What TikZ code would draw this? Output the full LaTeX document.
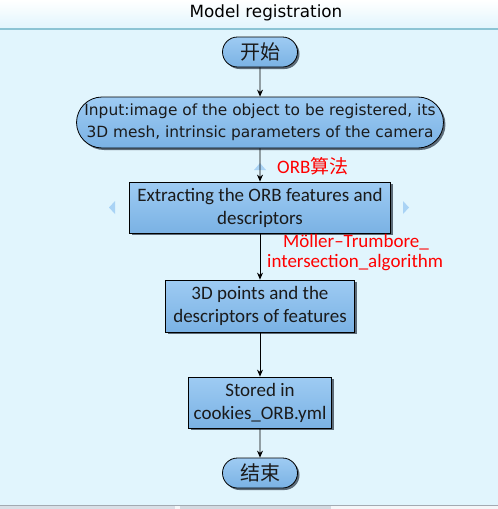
\documentclass[tikz,border=0pt]{standalone}
\usepackage{fontspec}
\setmainfont{DejaVu Sans}
\newfontfamily\calfont{Carlito}
\newfontfamily\cjk{Noto Sans CJK SC}
\usetikzlibrary{shapes.misc,arrows.meta,shadows}
\definecolor{bgblue}{HTML}{E1F5FD}
\definecolor{lineblue}{HTML}{8CC4D4}
\definecolor{boxtop}{HTML}{9ECBF3}
\definecolor{boxbot}{HTML}{7AB2E4}
\definecolor{shadowc}{HTML}{5C6B78}
\definecolor{handle}{HTML}{A9D3F5}
\definecolor{txt}{HTML}{1A1A1A}
\definecolor{stripa}{HTML}{D9DFE6}
\definecolor{stripb}{HTML}{F5F7F9}
\definecolor{stripc}{HTML}{D3D9E0}
\definecolor{stripd}{HTML}{F4F6F8}
\definecolor{stripline}{HTML}{A3AAB2}
\begin{document}
\begin{tikzpicture}[x=1pt,y=-1pt,
  base/.style={draw=black,line width=0.8pt,top color=boxtop,bottom color=boxbot,
    drop shadow={shadow xshift=2pt,shadow yshift=-2pt,fill=shadowc,opacity=1},
    inner sep=0pt,align=center,text=txt},
  term/.style={base,rounded rectangle,minimum width=75pt,minimum height=30pt,font=\cjk\fontsize{20}{22}\selectfont},
  inbox/.style={base,rounded rectangle,minimum width=364pt,minimum height=51pt,font=\fontsize{15.4}{22}\selectfont},
  procbox/.style={base,rectangle,minimum height=51pt,font=\calfont\fontsize{19}{23}\selectfont},
  lbl/.style={text=red,font=\calfont\fontsize{19}{21}\selectfont,align=left,inner sep=0pt},
  arr/.style={-{Stealth[length=7pt,width=6pt]},line width=0.8pt},
  hdl/.style={fill=handle,draw=none}]
\useasboundingbox (0,0) rectangle (498,509);
% background
\fill[bgblue] (0,0) rectangle (498,509);
\shade[top color=white,bottom color=bgblue] (0,0) rectangle (498,29);
\draw[lineblue,line width=1.5pt] (0,29) -- (498,29);
\node[font=\fontsize{16.8}{19}\selectfont,text=black] (title) at (266,13) {Model registration};
% bottom strip
\fill[stripa] (0,505) rectangle (175,509);
\fill[stripb] (175,505) rectangle (180,509);
\fill[stripc] (180,505) rectangle (331,509);
\fill[stripd] (331,505) rectangle (498,509);
\draw[stripline,line width=0.8pt] (0,505) -- (498,505);
% nodes
\node[term] (start) at (260,52) {开始};
\node[inbox] (input) at (260,122.5) {Input:image of the object to be registered, its\\3D mesh, intrinsic parameters of the camera};
\node[procbox,minimum width=261pt] (orb) at (260,207.5) {Extracting the ORB features and\\descriptors};
\node[procbox,minimum width=189pt,minimum height=52pt] (pts) at (260,306) {3D points and the\\descriptors of features};
\node[procbox,minimum width=143pt] (store) at (260,402.5) {Stored in\\cookies\_ORB.yml};
\node[term] (end) at (260,473) {结束};
% handles
\fill[hdl] (254,170) -- (266,170) -- (260,163) -- cycle;
\fill[hdl] (115,201) -- (115,214) -- (109,207.5) -- cycle;
\fill[hdl] (403,201) -- (403,214) -- (409,207.5) -- cycle;
% connectors
\draw[arr] (start) -- (input);
\draw[arr] (input) -- (orb);
\draw[arr] (orb) -- (pts);
\draw[arr] (pts) -- (store);
\draw[arr] (store) -- (end);
% labels
\node[lbl,anchor=west] (l1) at (277,166) {ORB{\cjk 算法}};
\node[lbl,anchor=west] (l2) at (283,242) {Möller–Trumbore\_};
\node[lbl,anchor=west] (l3) at (267,263) {intersection\_algorithm};
\end{tikzpicture}
\end{document}
